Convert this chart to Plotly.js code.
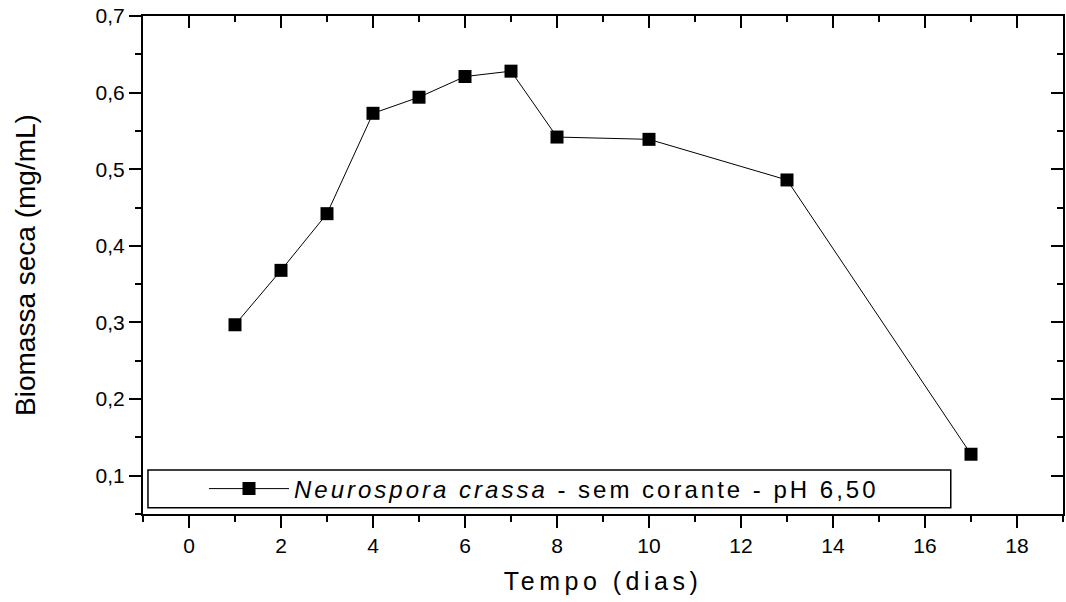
<!DOCTYPE html>
<html><head><meta charset="utf-8">
<script src="https://cdn.plot.ly/plotly-3.0.1.min.js"></script>
<style>
html,body{margin:0;padding:0;background:#fff;}
#chart{width:1066px;height:602px;}
.legendtext{letter-spacing:3px;}
.g-xtitle text{letter-spacing:4.5px;}
</style></head><body><div id="chart"></div>
<script>
const days = [1, 2, 3, 4, 5, 6, 7, 8, 10, 13, 17];
const biomass = [0.297, 0.368, 0.442, 0.573, 0.594, 0.621, 0.628, 0.542, 0.539, 0.486, 0.128];
const seriesName = '<i>Neurospora crassa</i> - sem corante - pH 6,50';
const xTitle = 'Tempo (dias)';
const yTitle = 'Biomassa seca (mg/mL)';

const FONT = 'Liberation Sans, Arial, sans-serif';
const xr = [-1, 19], yr = [0.05, 0.7];

const baseAxis = {
  showline: true, linewidth: 2, linecolor: '#000', showgrid: false, zeroline: false,
  tickcolor: '#000', tickwidth: 2, ticklen: 12, automargin: false,
  tickfont: {family: FONT, size: 21, color: '#000'}
};

const traces = [
  {x: days, y: biomass, type: 'scatter', mode: 'lines+markers', name: seriesName,
   line: {color: '#000', width: 1},
   marker: {symbol: 'square', size: 13, color: '#000', line: {width: 0}}},
  {x: [], y: [], xaxis: 'x2', yaxis: 'y2', type: 'scatter', mode: 'markers', showlegend: false, hoverinfo: 'skip'}
];

const layout = {
  width: 1066, height: 602,
  margin: {l: 143, r: 3, t: 16, b: 88, pad: 0},
  paper_bgcolor: '#fff', plot_bgcolor: '#fff',
  separators: ', ',
  font: {family: FONT, color: '#000'},
  xaxis: Object.assign({}, baseAxis, {
    range: xr, tick0: 0, dtick: 2, ticks: 'outside',
    minor: {tick0: 0, dtick: 1, ticks: 'outside', ticklen: 6, tickwidth: 2, tickcolor: '#000', showgrid: false},
    title: {text: xTitle, font: {family: FONT, size: 25, color: '#000'}, standoff: 16}
  }),
  yaxis: Object.assign({}, baseAxis, {
    range: yr, tick0: 0, dtick: 0.1, tickformat: '.1f', ticks: 'outside',
    minor: {tick0: 0, dtick: 0.05, ticks: 'outside', ticklen: 6, tickwidth: 2, tickcolor: '#000', showgrid: false},
    title: {text: yTitle, font: {family: FONT, size: 28, color: '#000'}, standoff: 52}
  }),
  xaxis2: Object.assign({}, baseAxis, {
    range: xr, tick0: 0, dtick: 2, ticks: 'inside', overlaying: 'x', side: 'top', anchor: 'y',
    showticklabels: false,
    minor: {tick0: 0, dtick: 1, ticks: 'inside', ticklen: 6, tickwidth: 2, tickcolor: '#000', showgrid: false}
  }),
  yaxis2: Object.assign({}, baseAxis, {
    range: yr, tick0: 0, dtick: 0.1, ticks: 'inside', overlaying: 'y', side: 'right', anchor: 'x',
    showticklabels: false,
    minor: {tick0: 0, dtick: 0.05, ticks: 'inside', ticklen: 6, tickwidth: 2, tickcolor: '#000', showgrid: false}
  }),
  showlegend: true,
  legend: {
    x: 0.0663, y: 0.0502, xanchor: 'left', yanchor: 'middle',
    orientation: 'h', itemwidth: 80,
    bgcolor: 'rgba(0,0,0,0)', borderwidth: 0,
    font: {family: FONT, size: 24, color: '#000'}
  },
  shapes: [
    {type: 'rect', xref: 'paper', yref: 'paper', x0: 0.0054, x1: 0.878, y0: 0.0127, y1: 0.0884,
     line: {color: '#000', width: 1.5}, fillcolor: 'rgba(0,0,0,0)', layer: 'above'}
  ]
};

Plotly.newPlot('chart', traces, layout, {displayModeBar: false, staticPlot: true});
</script></body></html>
